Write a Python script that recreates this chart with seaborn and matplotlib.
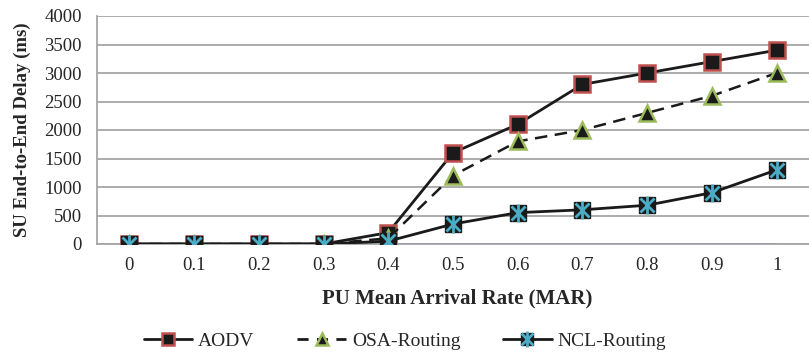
import matplotlib
matplotlib.use("Agg")
import matplotlib.pyplot as plt
import numpy as np
import pandas as pd
import seaborn as sns
from matplotlib.lines import Line2D

categories = ["0", "0.1", "0.2", "0.3", "0.4", "0.5", "0.6", "0.7", "0.8", "0.9", "1"]
aodv = [0, 0, 0, 0, 200, 1600, 2100, 2800, 3000, 3200, 3400]
osa = [0, 0, 0, 0, 100, 1200, 1800, 2000, 2300, 2600, 3000]
ncl = [0, 0, 0, 0, 50, 350, 550, 600, 680, 900, 1300]
baseline = [0] * len(categories)
yticks = [0, 500, 1000, 1500, 2000, 2500, 3000, 3500, 4000]

sns.set_style("white")
plt.rcParams["font.family"] = ["Liberation Serif", "DejaVu Serif"]

fig = plt.figure(figsize=(8.09, 3.54), dpi=100)
ax = fig.add_axes([97 / 809, 110 / 354, (809 - 97) / 809, 228 / 354])

pos = np.arange(len(categories))
df = pd.DataFrame({"pos": pos, "AODV": aodv, "OSA": osa, "NCL": ncl, "base": baseline})

grid_c = "#A6A6A6"
red = "#C0504D"
green = "#9BBB59"
cyan = "#4BACC6"
blue = "#4F81BD"

sns.lineplot(data=df, x="pos", y="base", ax=ax, color=blue, lw=2, zorder=2)
sns.lineplot(data=df, x="pos", y="AODV", ax=ax, color="#1a1a1a", lw=2,
             marker="s", markersize=11, markerfacecolor="#1a1a1a",
             markeredgecolor=red, markeredgewidth=1.8, zorder=3)
sns.lineplot(data=df, x="pos", y="OSA", ax=ax, color="#1a1a1a", lw=1.8,
             dashes=(5, 3), marker="^", markersize=11, markerfacecolor="#1a1a1a",
             markeredgecolor=green, markeredgewidth=1.8, zorder=4)
sns.lineplot(data=df, x="pos", y="NCL", ax=ax, color="#1a1a1a", lw=2,
             marker="s", markersize=11, markerfacecolor="#1a1a1a",
             markeredgecolor="#1a1a1a", markeredgewidth=1, zorder=5)
sns.lineplot(data=df, x="pos", y="NCL", ax=ax, lw=0, marker="x", markersize=10,
             markeredgecolor=cyan, markeredgewidth=2, zorder=6)
sns.lineplot(data=df, x="pos", y="NCL", ax=ax, lw=0, marker="|", markersize=13,
             markeredgecolor=cyan, markeredgewidth=2, zorder=6)

ax.set_xlim(-0.5, (809 - 129) / 65)
ax.set_ylim(0, 4000)
ax.set_yticks(yticks)
ax.set_yticklabels([str(v) for v in yticks])
ax.set_xticks(pos)
ax.set_xticklabels(categories)
ax.set_xticks(np.arange(-0.5, 10.6, 1), minor=True)
ax.tick_params(axis="x", which="major", length=0, labelsize=13.5, pad=9)
ax.tick_params(axis="x", which="minor", length=6, width=1, color=grid_c, direction="out")
ax.tick_params(axis="y", length=4, width=1, color=grid_c, labelsize=13.5, pad=7, direction="out")
ax.grid(axis="y", color=grid_c, lw=1.3, zorder=0)
ax.grid(axis="x", visible=False)
for s in ["top", "right"]:
    ax.spines[s].set_visible(False)
for s in ["left", "bottom"]:
    ax.spines[s].set_color(grid_c)
    ax.spines[s].set_linewidth(1.3)

ax.set_xlabel("PU Mean Arrival Rate (MAR)", fontsize=15, fontweight="bold")
ax.set_ylabel("SU End-to-End Delay (ms)", fontsize=13.5, fontweight="bold")
ax.xaxis.set_label_coords((457 - 97) / (809 - 97), -0.195)
ax.yaxis.set_label_coords(-(97 - 31) / (809 - 97), 0.5)

handles = [
    Line2D([], [], color="#1a1a1a", lw=2, marker="s", markersize=9,
           markerfacecolor="#1a1a1a", markeredgecolor=red, markeredgewidth=1.8),
    Line2D([], [], color="#1a1a1a", lw=2, dashes=(4, 3), marker="^", markersize=9,
           markerfacecolor="#1a1a1a", markeredgecolor=green, markeredgewidth=1.8),
    (Line2D([], [], color="#1a1a1a", lw=2, marker="s", markersize=9,
            markerfacecolor="#1a1a1a", markeredgecolor="#1a1a1a"),
     Line2D([], [], lw=0, marker="x", markersize=8, markeredgecolor=cyan, markeredgewidth=2),
     Line2D([], [], lw=0, marker="|", markersize=11, markeredgecolor=cyan, markeredgewidth=2)),
]
fig.legend(handles, ["AODV", "OSA-Routing", "NCL-Routing"], loc="center",
           bbox_to_anchor=(405 / 809, 1 - 341 / 354), ncol=3, frameon=False,
           fontsize=14, handlelength=2.5, handletextpad=0.3, columnspacing=2.2)

fig.savefig("out.png", dpi=100)
